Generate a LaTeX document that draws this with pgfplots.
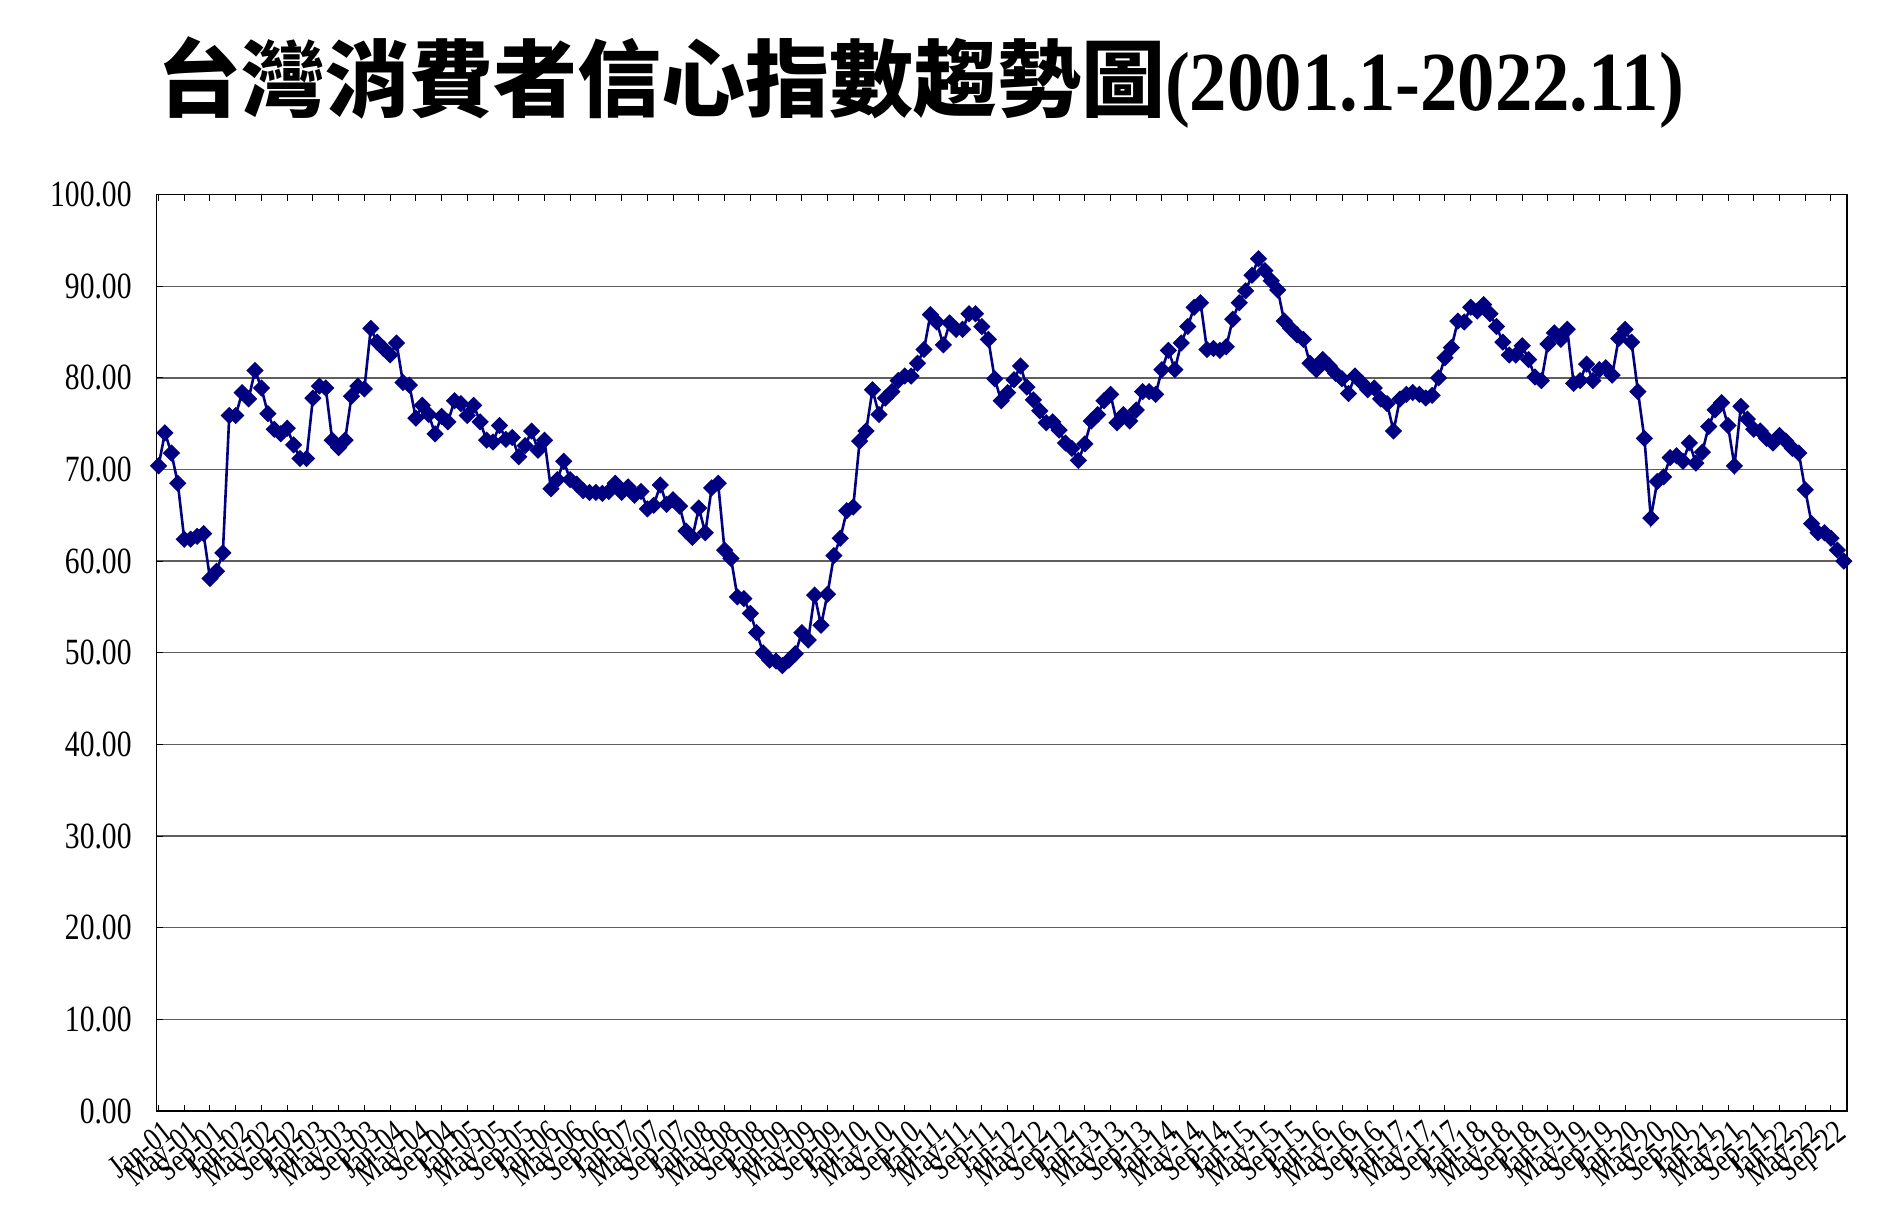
\documentclass[border=0pt]{standalone}
\usepackage{pgfplots}
\usepackage{pgfplotstable}
\pgfplotsset{compat=1.18}
\usepackage{fontspec}
\setmainfont{Liberation Serif}
\newfontfamily\tickfont[FakeStretch=0.8]{Liberation Serif}
\newfontfamily\titlelatin[FakeStretch=0.89]{Liberation Serif}
\newfontfamily\cjk{Noto Sans CJK TC}
\definecolor{navyc}{RGB}{0,0,128}
\definecolor{gridc}{RGB}{95,95,95}

\pgfplotstableread[row sep=\\]{
x y\\
0 70.4\\ 1 74.0\\ 2 71.8\\ 3 68.5\\ 4 62.4\\ 5 62.4\\ 6 62.7\\ 7 63.0\\ 8 58.1\\ 9 58.9\\
10 60.9\\ 11 75.9\\ 12 75.9\\ 13 78.4\\ 14 77.7\\ 15 80.8\\ 16 78.9\\ 17 76.1\\ 18 74.4\\ 19 73.9\\
20 74.5\\ 21 72.7\\ 22 71.2\\ 23 71.2\\ 24 77.8\\ 25 79.1\\ 26 78.9\\ 27 73.2\\ 28 72.4\\ 29 73.2\\
30 78.0\\ 31 79.1\\ 32 78.8\\ 33 85.4\\ 34 83.9\\ 35 83.2\\ 36 82.5\\ 37 83.8\\ 38 79.5\\ 39 79.2\\
40 75.6\\ 41 77.0\\ 42 76.0\\ 43 73.9\\ 44 75.8\\ 45 75.2\\ 46 77.5\\ 47 77.2\\ 48 75.9\\ 49 77.0\\
50 75.2\\ 51 73.2\\ 52 73.0\\ 53 74.8\\ 54 73.3\\ 55 73.5\\ 56 71.4\\ 57 72.6\\ 58 74.2\\ 59 72.1\\
60 73.2\\ 61 67.9\\ 62 68.9\\ 63 70.9\\ 64 68.9\\ 65 68.4\\ 66 67.7\\ 67 67.5\\ 68 67.5\\ 69 67.4\\
70 67.6\\ 71 68.5\\ 72 67.5\\ 73 68.1\\ 74 67.2\\ 75 67.6\\ 76 65.7\\ 77 66.1\\ 78 68.3\\ 79 66.2\\
80 66.7\\ 81 66.0\\ 82 63.3\\ 83 62.6\\ 84 65.8\\ 85 63.1\\ 86 68.0\\ 87 68.5\\ 88 61.2\\ 89 60.3\\
90 56.1\\ 91 55.9\\ 92 54.3\\ 93 52.2\\ 94 50.0\\ 95 49.2\\ 96 49.1\\ 97 48.6\\ 98 49.2\\ 99 49.9\\
100 52.2\\ 101 51.4\\ 102 56.3\\ 103 53.0\\ 104 56.4\\ 105 60.6\\ 106 62.5\\ 107 65.5\\ 108 65.9\\ 109 73.1\\
110 74.2\\ 111 78.7\\ 112 76.0\\ 113 77.8\\ 114 78.5\\ 115 79.7\\ 116 80.2\\ 117 80.2\\ 118 81.6\\ 119 83.1\\
120 86.9\\ 121 86.1\\ 122 83.6\\ 123 86.0\\ 124 85.3\\ 125 85.3\\ 126 87.0\\ 127 87.0\\ 128 85.6\\ 129 84.2\\
130 79.9\\ 131 77.5\\ 132 78.4\\ 133 79.8\\ 134 81.3\\ 135 79.0\\ 136 77.6\\ 137 76.4\\ 138 75.1\\ 139 75.2\\
140 74.3\\ 141 72.9\\ 142 72.3\\ 143 71.0\\ 144 72.8\\ 145 75.3\\ 146 76.0\\ 147 77.5\\ 148 78.2\\ 149 75.1\\
150 76.0\\ 151 75.3\\ 152 76.5\\ 153 78.5\\ 154 78.5\\ 155 78.2\\ 156 80.9\\ 157 83.0\\ 158 80.9\\ 159 83.8\\
160 85.6\\ 161 87.7\\ 162 88.2\\ 163 83.1\\ 164 83.2\\ 165 83.0\\ 166 83.4\\ 167 86.4\\ 168 88.2\\ 169 89.5\\
170 91.2\\ 171 93.0\\ 172 91.7\\ 173 90.6\\ 174 89.6\\ 175 86.2\\ 176 85.4\\ 177 84.7\\ 178 84.2\\ 179 81.6\\
180 80.9\\ 181 82.0\\ 182 81.3\\ 183 80.5\\ 184 79.9\\ 185 78.3\\ 186 80.2\\ 187 79.5\\ 188 78.7\\ 189 78.9\\
190 77.7\\ 191 77.2\\ 192 74.2\\ 193 77.7\\ 194 78.2\\ 195 78.4\\ 196 78.2\\ 197 77.8\\ 198 78.1\\ 199 80.0\\
200 82.2\\ 201 83.3\\ 202 86.2\\ 203 86.1\\ 204 87.7\\ 205 87.3\\ 206 88.0\\ 207 87.0\\ 208 85.6\\ 209 83.9\\
210 82.5\\ 211 82.5\\ 212 83.5\\ 213 82.0\\ 214 80.1\\ 215 79.7\\ 216 83.7\\ 217 84.9\\ 218 84.2\\ 219 85.3\\
220 79.4\\ 221 79.7\\ 222 81.5\\ 223 79.7\\ 224 80.9\\ 225 81.1\\ 226 80.3\\ 227 84.3\\ 228 85.3\\ 229 83.9\\
230 78.5\\ 231 73.4\\ 232 64.7\\ 233 68.7\\ 234 69.2\\ 235 71.3\\ 236 71.5\\ 237 70.9\\ 238 72.9\\ 239 70.7\\
240 71.9\\ 241 74.7\\ 242 76.5\\ 243 77.3\\ 244 74.8\\ 245 70.4\\ 246 76.9\\ 247 75.5\\ 248 74.4\\ 249 74.2\\
250 73.4\\ 251 72.9\\ 252 73.7\\ 253 73.1\\ 254 72.3\\ 255 71.8\\ 256 67.8\\ 257 64.1\\ 258 63.1\\ 259 63.1\\
260 62.5\\ 261 61.2\\ 262 60.0\\
}\cci

\begin{document}
\begin{tikzpicture}
\useasboundingbox (-78.3bp,-51.5bp) rectangle (871.7bp,555.5bp);
\begin{axis}[
  scale only axis,
  width=845.2bp, height=458.2bp,
  at={(0,0)}, anchor=south west,
  xmin=-0.3, xmax=262.5,
  ymin=0, ymax=100,
  ytick={0,10,...,100},
  /pgf/number format/assume math mode=true,
  yticklabel={\pgfmathprintnumber[fixed,fixed zerofill,precision=2]{\tick}},
  yticklabel style={font=\tickfont\fontsize{18.5bp}{20bp}\selectfont, xshift=-9bp},
  xtick={0,4,...,260},
  xticklabels={Jan-01,May-01,Sep-01,Jan-02,May-02,Sep-02,Jan-03,May-03,Sep-03,Jan-04,May-04,Sep-04,Jan-05,May-05,Sep-05,Jan-06,May-06,Sep-06,Jan-07,May-07,Sep-07,Jan-08,May-08,Sep-08,Jan-09,May-09,Sep-09,Jan-10,May-10,Sep-10,Jan-11,May-11,Sep-11,Jan-12,May-12,Sep-12,Jan-13,May-13,Sep-13,Jan-14,May-14,Sep-14,Jan-15,May-15,Sep-15,Jan-16,May-16,Sep-16,Jan-17,May-17,Sep-17,Jan-18,May-18,Sep-18,Jan-19,May-19,Sep-19,Jan-20,May-20,Sep-20,Jan-21,May-21,Sep-21,Jan-22,May-22,Sep-22},
  xticklabel style={font=\tickfont\fontsize{16.5bp}{18bp}\selectfont, rotate=38, anchor=north east, inner sep=1bp, yshift=-3bp},
  tick align=inside,
  major tick length=3bp,
  tick style={black, line width=0.5bp},
  ymajorgrids,
  grid style={gridc, line width=0.7bp},
  axis line style={black, line width=0.7bp},
  clip=false,
]
\addplot[color=navyc, line width=1.3bp, mark=square*, mark size=2.4bp,
  mark options={rotate=45, solid, fill=navyc, draw=navyc}] table[x=x,y=y] {\cci};
\end{axis}
\node[anchor=center, inner sep=0pt] at (382bp,514bp)
  {{\cjk\bfseries\fontsize{42bp}{46bp}\selectfont 台灣消費者信心指數趨勢圖}{\titlelatin\bfseries\fontsize{42bp}{46bp}\selectfont (2001.1-2022.11)}};
\end{tikzpicture}
\end{document}
